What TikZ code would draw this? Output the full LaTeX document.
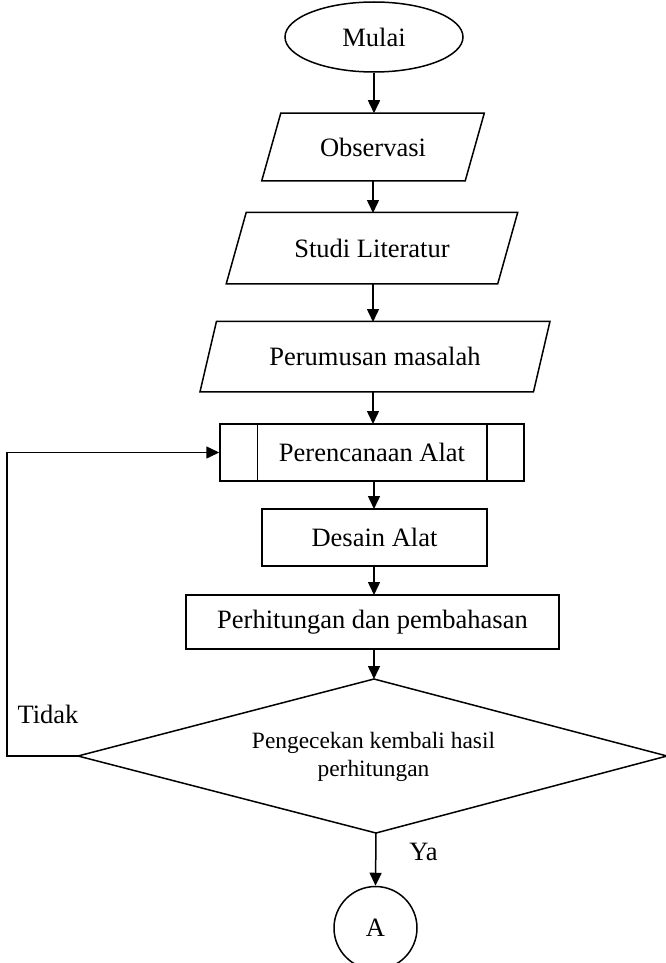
\documentclass[tikz,border=0pt]{standalone}
\usepackage{fontspec}
\setmainfont{Liberation Serif}
\usetikzlibrary{shapes.geometric,arrows.meta,calc}
\begin{document}
\begin{tikzpicture}[x=1pt,y=-1pt,
  base/.style={inner sep=0pt, font=\fontsize{26.5}{30}\selectfont},
  hold/.style={base, draw=none, rectangle},
  boxx/.style={base, draw, rectangle},
  arr/.style={-{Triangle[length=13pt,width=12pt]}},
  every path/.style={line width=1.5pt}]
\useasboundingbox (0,0) rectangle (666,963);

\node[base, draw, ellipse, minimum width=178pt, minimum height=70pt] (mulai) at (374,37) {Mulai};

\node[hold, minimum width=202pt, minimum height=66pt] (obs) at (373,147) {Observasi};
\draw ($(obs.north west)+(9.5,0)$) -- ($(obs.north east)+(9.5,0)$) -- ($(obs.south east)+(-9.5,0)$) -- ($(obs.south west)+(-9.5,0)$) -- cycle;

\node[hold, minimum width=270pt, minimum height=70pt] (stu) at (372,248) {Studi Literatur};
\draw ($(stu.north west)+(10,0)$) -- ($(stu.north east)+(10,0)$) -- ($(stu.south east)+(-10,0)$) -- ($(stu.south west)+(-10,0)$) -- cycle;

\node[hold, minimum width=332pt, minimum height=69pt] (per) at (375,356.5) {Perumusan masalah};
\draw ($(per.north west)+(8.25,0)$) -- ($(per.north east)+(8.25,0)$) -- ($(per.south east)+(-8.25,0)$) -- ($(per.south west)+(-8.25,0)$) -- cycle;

\node[boxx, minimum width=304pt, minimum height=57pt] (ren) at (372,452.5) {Perencanaan Alat};
\draw ($(ren.north west)+(38,0)$) -- ($(ren.south west)+(38,0)$);
\draw ($(ren.north east)+(-38,0)$) -- ($(ren.south east)+(-38,0)$);

\node[boxx, minimum width=225pt, minimum height=57pt] (des) at (374.5,537.5) {Desain Alat};

\node[boxx, minimum width=373pt, minimum height=54pt] (hit) at (372.5,622) {Perhitungan dan pembahasan};

\coordinate (ct) at (374,679);
\coordinate (cl) at (78,756);
\coordinate (cr) at (667,756);
\coordinate (cb) at (376,833);
\draw (ct) -- (cr) -- (cb) -- (cl) -- cycle;
\node[inner sep=0pt, align=center, font=\fontsize{23.4}{28}\selectfont] (cek) at (373.5,757) {Pengecekan kembali hasil\\perhitungan};

\node[base, draw, circle, minimum size=83pt] (a) at (375.5,928) {A};

\node[base, anchor=base] (tidak) at (48,723) {Tidak};
\node[base, anchor=base] (ya) at (423.5,860) {Ya};

\coordinate (lx) at (7,449);

\draw[arr] (mulai.south) -- (mulai.south |- obs.north);
\draw[arr] (373,180) -- (373,213);
\draw[arr] (373,283) -- (373,322);
\draw[arr] (373,391) -- (373,424);
\draw[arr] (374,481) -- (374,509);
\draw[arr] (374,566) -- (374,595);
\draw[arr] (hit.south -| ct) -- (ct);
\draw[arr] (cb) -- (a.north);
\draw[arr] (cl) -- (cl -| lx) |- (ren.west);
\end{tikzpicture}
\end{document}
